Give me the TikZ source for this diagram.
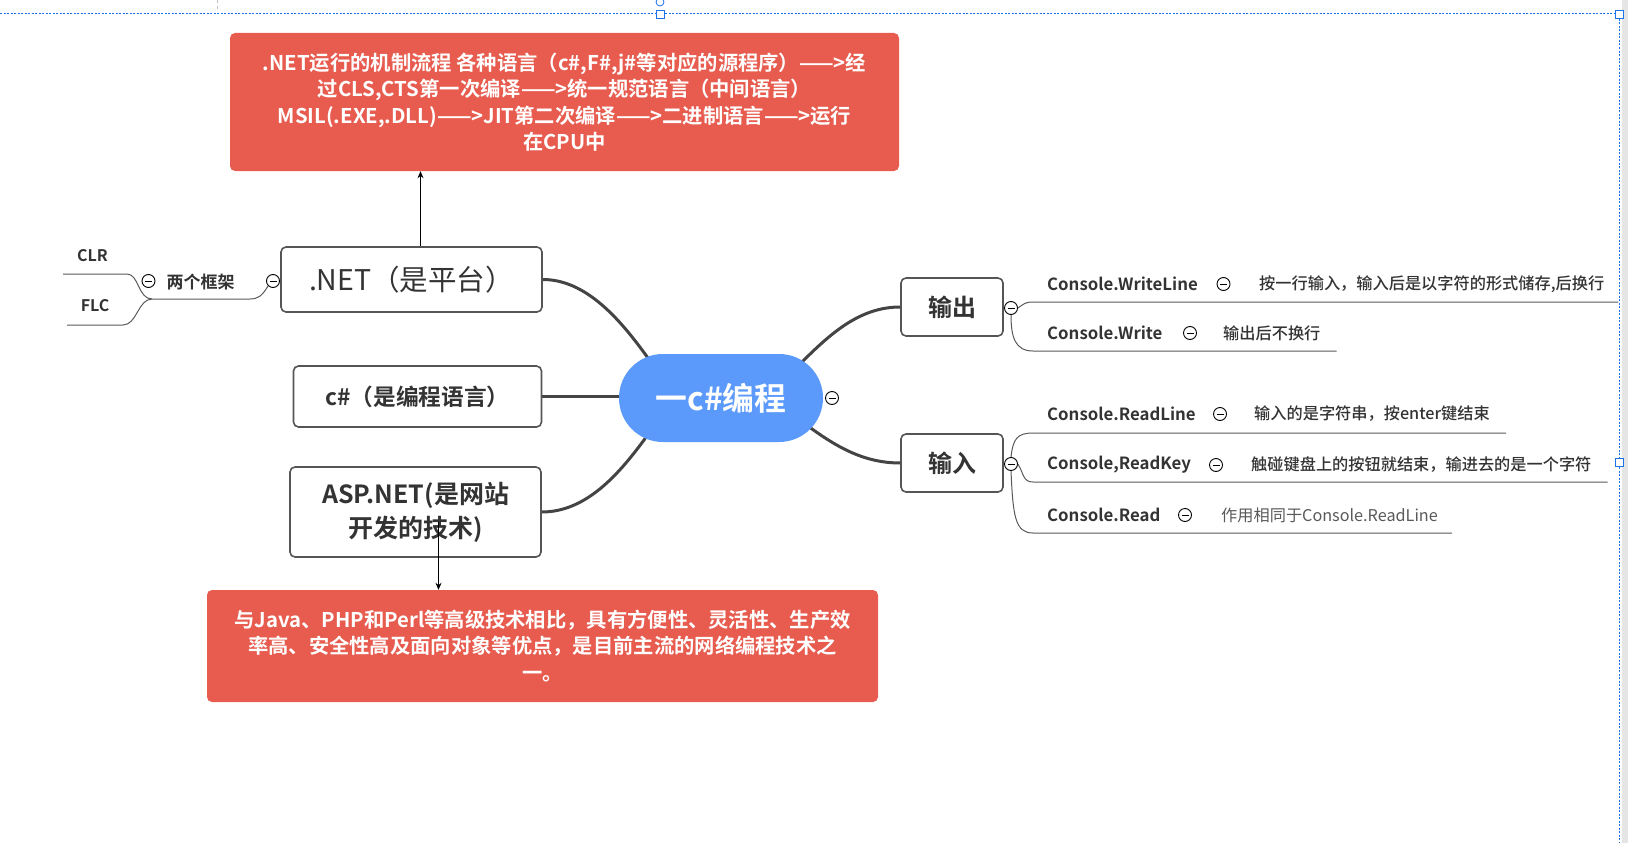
\documentclass[tikz,border=0pt]{standalone}
\usepackage{fontspec}
\setmainfont{Noto Sans CJK SC}[BoldFont={Noto Sans CJK SC Bold}]
\newfontfamily\medfont{Noto Sans CJK SC Medium}
\usepackage{tikz}
\usetikzlibrary{calc,arrows.meta,backgrounds}
\definecolor{noteRed}{RGB}{231,92,79}
\definecolor{hubBlue}{RGB}{91,154,250}
\definecolor{linkGray}{RGB}{68,68,68}
\definecolor{boxGray}{RGB}{85,85,85}
\definecolor{textDark}{RGB}{51,51,51}
\definecolor{selBlue}{RGB}{26,115,232}

\begin{document}
\begin{tikzpicture}[x=1pt, y=-1pt,
  box/.style={draw=boxGray, line width=1.6pt, rounded corners=5pt, fill=white, text=textDark, align=center, inner sep=0pt},
  note/.style={fill=noteRed, rounded corners=5pt, text=white, align=center, inner sep=0pt, font=\fontsize{20.3}{26.5}\selectfont\bfseries},
  link/.style={linkGray, line width=3pt},
  twig/.style={draw=black!65, line width=1pt},
  foldmark/.style={circle, draw=black, fill=white, line width=0.9pt, minimum size=13pt, inner sep=0pt,
    path picture={\draw[line width=0.9pt] ([xshift=3pt]path picture bounding box.west) -- ([xshift=-3pt]path picture bounding box.east);}},
  leaf/.style={anchor=west, inner sep=0pt, text=textDark, font=\fontsize{16.8}{18}\selectfont\bfseries},
  hint/.style={anchor=west, inner sep=0pt, text=textDark, font=\fontsize{16.2}{18}\selectfont\medfont}]
  \useasboundingbox (0,0) rectangle (1628,843);

  % notes
  \node[note, minimum width=669pt, minimum height=138pt] (flow) at (564.5,102)
    {.NET运行的机制流程 各种语言（c\#,F\#,j\#等对应的源程序）——>经\\过CLS,CTS第一次编译——>统一规范语言（中间语言）\\MSIL(.EXE,.DLL)——>JIT第二次编译——>二进制语言——>运行\\在CPU中};
  \node[note, minimum width=671pt, minimum height=112pt] (merit) at (542.5,646)
    {与Java、PHP和Perl等高级技术相比，具有方便性、灵活性、生产效\\率高、安全性高及面向对象等优点，是目前主流的网络编程技术之\\一。};

  % main topics
  \node[box, minimum width=261pt, minimum height=65pt, font=\fontsize{28.5}{30}\selectfont] (net) at (411.5,279.5) {.NET（是平台）};
  \node[box, minimum width=248pt, minimum height=61pt, font=\fontsize{22.7}{26}\selectfont\bfseries] (csharp) at (417.5,396.5) {c\#（是编程语言）};
  \node[box, minimum width=251pt, minimum height=90pt, font=\fontsize{25}{34}\selectfont\bfseries] (asp) at (415.5,512) {\raisebox{-4pt}{ASP.NET(是网站}\\\raisebox{-4pt}{开发的技术)}};
  \node[fill=hubBlue, rounded corners=43.9pt, minimum width=204pt, minimum height=88pt, inner sep=0pt, text=white,
    font=\fontsize{31.8}{34}\selectfont\bfseries] (hub) at (721,398) {一c\#编程};
  \node[box, minimum width=102pt, minimum height=58pt, font=\fontsize{24}{28}\selectfont\bfseries] (output) at (952,307) {输出};
  \node[box, minimum width=102pt, minimum height=58pt, font=\fontsize{24}{28}\selectfont\bfseries] (input) at (952,463) {输入};

  % links from hub
  \begin{scope}[on background layer]
    \draw[link] (net.east) .. controls +(43,0) and +(-28,-39) .. ($(hub.north west)+(29,4)$);
    \draw[link] (csharp.east) -- (csharp.east -| hub.west);
    \draw[link] (asp.east) .. controls +(45,0) and +(-27,37) .. ($(hub.south west)+(28,-6)$);
    \draw[link] ($(hub.north east)+(-22,9)$) .. controls +(30,-30) and +(-40,0) .. (output.west);
    \draw[link] ($(hub.south east)+(-15,-16)$) .. controls +(30,22) and +(-35,0) .. (input.west);
  \end{scope}

  % fold marks
  \node[foldmark] (fnet) at (273,281) {};
  \node[foldmark] (fhub) at (832,398) {};
  \node[foldmark] (fout) at (1011,308) {};
  \node[foldmark] (fin) at (1011,464) {};

  % frameworks
  \node[inner sep=0pt, text=textDark, font=\fontsize{17}{18}\selectfont\bfseries] (frames) at (200.5,282) {两个框架};
  \node[inner sep=0pt, text=textDark, font=\fontsize{16}{18}\selectfont\bfseries] (clr) at (92.5,256) {CLR};
  \node[inner sep=0pt, text=textDark, font=\fontsize{16}{18}\selectfont\bfseries] (flc) at (95,306) {FLC};
  \coordinate (frames-r) at (250,299);
  \coordinate (frames-l) at (152,299);
  \coordinate (clr-l) at (63,274);
  \coordinate (flc-l) at (67,325);
  \draw[twig] (fnet.south west) .. controls +(-6,10) and +(8,0) .. (frames-r) -- (frames-l);
  \draw[twig] (frames-l) .. controls +(-14,0) and +(12,0) .. +(-25,-25) -- (clr-l);
  \draw[twig] (frames-l) .. controls +(-14,0) and +(14,0) .. +(-29,26) -- (flc-l);
  \node[foldmark] (ftwo) at (148.5,281) {};

  % output branch
  \node[leaf] (wline) at (1047,284) {Console.WriteLine};
  \node[foldmark] (fwline) at (1223.5,284) {};
  \node[hint] (wlinehint) at (1259,284) {按一行输入，输入后是以字符的形式储存,后换行};
  \node[leaf] (write) at (1047,333) {Console.Write};
  \node[foldmark] (fwrite) at (1190,333) {};
  \node[hint] (writehint) at (1223,333) {输出后不换行};
  \coordinate (wline-in) at (1033,302);
  \coordinate (write-in) at (1033,351);
  \draw[twig] (fout.east) .. controls +(6,-4) and +(-8,0) .. (wline-in) -- ($(wline-in -| wlinehint.east)+(14,0)$);
  \draw[twig] (fout.south) .. controls +(0,22) and +(-18,0) .. (write-in) -- ($(write-in -| writehint.east)+(16,0)$);

  % input branch
  \node[leaf] (rline) at (1047,414) {Console.ReadLine};
  \node[foldmark] (frline) at (1220,414) {};
  \node[hint] (rlinehint) at (1254,414) {输入的是字符串，按enter键结束};
  \node[leaf] (rkey) at (1047,465) {Console,ReadKey};
  \node[foldmark] (frkey) at (1216,465) {};
  \node[hint] (rkeyhint) at (1251,465) {触碰键盘上的按钮就结束，输进去的是一个字符};
  \node[leaf] (read) at (1047,515) {Console.Read};
  \node[foldmark] (fread) at (1185,515) {};
  \node[hint, text=black!65, font=\fontsize{16.2}{18}\selectfont] (readhint) at (1221,515) {作用相同于Console.ReadLine};
  \coordinate (rline-in) at (1033,433);
  \coordinate (rkey-in) at (1033,482);
  \coordinate (read-in) at (1033,533);
  \draw[twig] (fin.north) .. controls +(2,-18) and +(-16,0) .. (rline-in) -- ($(rline-in -| rlinehint.east)+(16,0)$);
  \draw[twig] (fin.east) .. controls +(6,10) and +(-10,0) .. (rkey-in) -- ($(rkey-in -| rkeyhint.east)+(16,0)$);
  \draw[twig] (fin.south) .. controls +(2,45) and +(-18,0) .. (read-in) -- ($(read-in -| readhint.east)+(14,0)$);

  % arrows to notes
  \coordinate (net-top) at ($(net.north)+(9,0)$);
  \coordinate (asp-mid) at ($(asp.center)+(23,10)$);
  \draw[-{Stealth[length=7pt,width=6pt]}, line width=0.8pt] (net-top) -- (net-top |- flow.south);
  \draw[-{Stealth[length=7pt,width=6pt]}, line width=0.8pt] (asp-mid) -- (asp-mid |- merit.north);

  % selection frame
  \draw[black!25, dashed] (217,0) -- (217,11);
  \fill[black!10] (1622,0) rectangle (1628,843);
  \draw[selBlue, dash pattern=on 2pt off 1.5pt, line width=1pt] (0,14) -- (1619,14) -- (1619,843);
  \draw[selBlue, fill=white, line width=0.8pt] (660,2) circle (4);
  \draw[selBlue, fill=white, line width=0.8pt] (656,10) rectangle (664,18);
  \draw[selBlue, fill=white, line width=0.8pt] (1615,10) rectangle (1623,18);
  \draw[selBlue, fill=white, line width=0.8pt] (1615,458) rectangle (1623,466);
\end{tikzpicture}
\end{document}
